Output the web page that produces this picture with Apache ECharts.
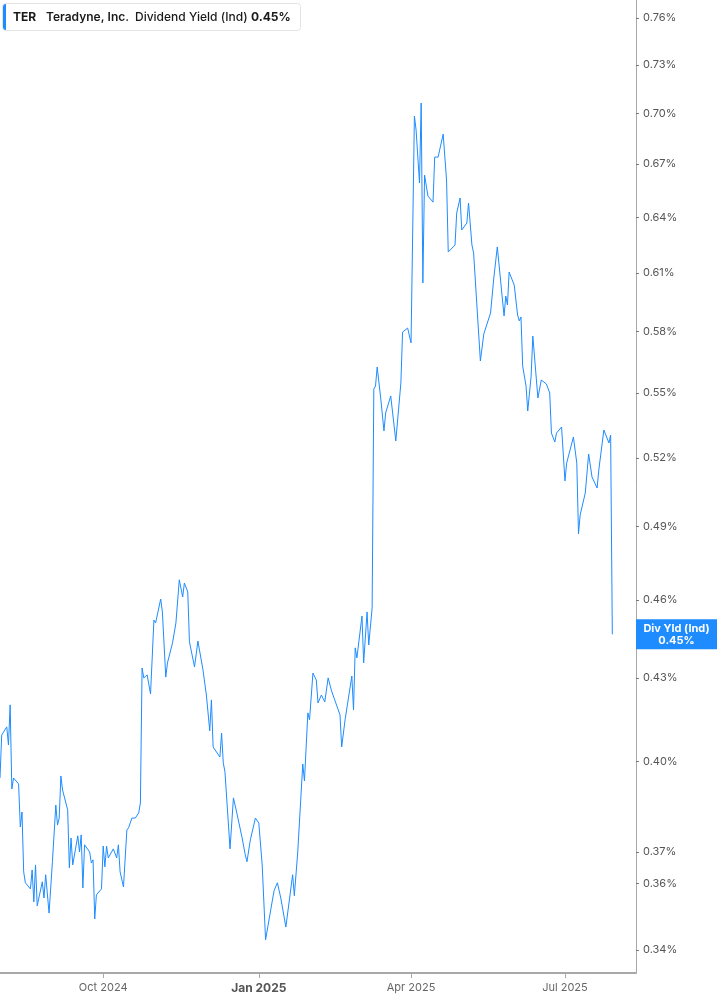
<!DOCTYPE html>
<html><head><meta charset="utf-8">
<script src="https://cdn.jsdelivr.net/npm/echarts@6/dist/echarts.min.js"></script>
<style>html,body{margin:0;padding:0;background:#fff}#c{width:717px;height:1005px}</style>
</head><body><div id="c"></div>
<script>
const dates = ['2024-08-01','2024-08-02','2024-08-05','2024-08-06','2024-08-07','2024-08-08','2024-08-09','2024-08-12','2024-08-13','2024-08-14','2024-08-15','2024-08-16','2024-08-19','2024-08-20','2024-08-21','2024-08-22','2024-08-23','2024-08-26','2024-08-27','2024-08-28','2024-08-30',
'2024-09-01','2024-09-03','2024-09-04','2024-09-05','2024-09-06','2024-09-07','2024-09-10','2024-09-11','2024-09-12','2024-09-13','2024-09-16','2024-09-17','2024-09-18','2024-09-19','2024-09-20','2024-09-23','2024-09-24','2024-09-25','2024-09-26','2024-09-27','2024-09-30',
'2024-10-01','2024-10-02','2024-10-03','2024-10-04','2024-10-07','2024-10-09','2024-10-10','2024-10-11','2024-10-13','2024-10-15','2024-10-16','2024-10-17','2024-10-18','2024-10-20','2024-10-22','2024-10-23','2024-10-24','2024-10-25','2024-10-27','2024-10-29','2024-10-31',
'2024-11-01','2024-11-04','2024-11-05','2024-11-07','2024-11-08','2024-11-11','2024-11-13','2024-11-14','2024-11-15','2024-11-17','2024-11-18','2024-11-20','2024-11-21','2024-11-24','2024-11-26','2024-11-29',
'2024-12-01','2024-12-03','2024-12-04','2024-12-05','2024-12-09','2024-12-10','2024-12-11','2024-12-12','2024-12-15','2024-12-17','2024-12-19','2024-12-22','2024-12-24','2024-12-25','2024-12-27','2024-12-30',
'2025-01-01','2025-01-03','2025-01-05','2025-01-10','2025-01-12','2025-01-14','2025-01-17','2025-01-21','2025-01-22','2025-01-24','2025-01-27','2025-01-28','2025-01-30','2025-01-31',
'2025-02-02','2025-02-04','2025-02-05','2025-02-07','2025-02-09','2025-02-11','2025-02-13','2025-02-18','2025-02-19','2025-02-21','2025-02-23','2025-02-25','2025-02-26','2025-02-27','2025-02-28',
'2025-03-03','2025-03-04','2025-03-06','2025-03-07','2025-03-09','2025-03-10','2025-03-11','2025-03-12','2025-03-14','2025-03-16','2025-03-17','2025-03-20','2025-03-23','2025-03-26','2025-03-27','2025-03-30','2025-03-31',
'2025-04-01','2025-04-03','2025-04-04','2025-04-06','2025-04-07','2025-04-08','2025-04-09','2025-04-11','2025-04-14','2025-04-15','2025-04-17','2025-04-20','2025-04-22','2025-04-23','2025-04-27','2025-04-28','2025-04-30',
'2025-05-01','2025-05-04','2025-05-05','2025-05-07','2025-05-08','2025-05-12','2025-05-14','2025-05-18','2025-05-19','2025-05-20','2025-05-22','2025-05-26','2025-05-27','2025-05-28','2025-05-29',
'2025-06-01','2025-06-03','2025-06-04','2025-06-05','2025-06-06','2025-06-08','2025-06-09','2025-06-11','2025-06-12','2025-06-15','2025-06-17','2025-06-18','2025-06-20','2025-06-22','2025-06-23','2025-06-24','2025-06-25','2025-06-26','2025-06-29',
'2025-07-01','2025-07-02','2025-07-06','2025-07-08','2025-07-09','2025-07-10','2025-07-13','2025-07-15','2025-07-17','2025-07-20','2025-07-21','2025-07-24','2025-07-27','2025-07-28','2025-07-29'];

const yields = [0.3944,0.4093,0.4122,0.4058,0.4201,0.3907,0.3944,0.3924,0.3781,0.3830,0.3637,0.3603,0.3584,0.3643,0.3544,0.3659,0.3532,0.3606,0.3556,0.3628,0.3510,
0.3669,0.3853,0.3787,0.3810,0.3951,0.3903,0.3837,0.3650,0.3745,0.3659,0.3752,0.3700,0.3755,0.3587,0.3723,0.3700,0.3665,0.3675,0.3492,0.3566,0.3584,
0.3719,0.3653,0.3719,0.3681,0.3710,0.3681,0.3723,0.3637,0.3590,0.3771,0.3778,0.3778,0.3810,0.3810,0.3827,0.3860,0.4337,0.4300,0.4311,0.4241,0.4520,
0.4509,0.4603,0.4552,0.4303,0.4356,0.4432,0.4509,0.4509,0.4680,0.4611,0.4667,0.4631,0.4436,0.4341,0.4439,0.4330,
0.4237,0.4108,0.4219,0.4051,0.4016,0.4100,0.3996,0.3965,0.3710,0.3877,0.3827,0.3749,0.3691,0.3669,0.3739,0.3810,
0.3794,0.3659,0.3430,0.3578,0.3603,0.3556,0.3468,0.3628,0.3563,0.3697,0.3992,0.3934,0.4172,0.4147,
0.4318,0.4292,0.4208,0.4237,0.4212,0.4300,0.4252,0.4165,0.4051,0.4147,0.4226,0.4307,0.4183,0.4413,0.4375,
0.4536,0.4356,0.4552,0.4424,0.4568,0.5518,0.5532,0.5624,0.5480,0.5322,0.5405,0.5485,0.5276,0.5547,0.5796,0.5816,0.5811,
0.5742,0.6984,0.6900,0.6592,0.7063,0.6047,0.6637,0.6518,0.6484,0.6741,0.6741,0.6876,0.6609,0.6211,0.6248,0.6423,0.6507,
0.6330,0.6368,0.6479,0.6248,0.6205,0.5653,0.5786,0.5892,0.5897,0.6078,0.6238,0.5877,0.5979,0.5933,0.6104,
0.6036,0.5882,0.5852,0.5872,0.5629,0.5532,0.5414,0.5580,0.5776,0.5475,0.5561,0.5561,0.5542,0.5499,0.5312,0.5317,0.5271,0.5312,0.5340,
0.5097,0.5176,0.5294,0.5176,0.4869,0.4950,0.5044,0.5217,0.5114,0.5066,0.5145,0.5326,0.5267,0.5303,0.4465];

const yTicks = [0.34,0.36,0.37,0.40,0.43,0.46,0.49,0.52,0.55,0.58,0.61,0.64,0.67,0.70,0.73,0.76];
const xTickDates = ['2024-10-01','2025-01-01','2025-04-01','2025-07-01'];
const xTickLabels = ['Oct 2024','Jan 2025','Apr 2025','Jul 2025'];
const xRange = ['2024-08-01','2025-08-12'];
const yRange = [0.3333, 0.772];
const legendParts = ['TER','Teradyne, Inc.','Dividend Yield (Ind)','0.45%'];
const endLabel = ['Div Yld (Ind)','0.45%'];

function ts(s){const p=s.split('-').map(Number);return Date.UTC(p[0],p[1]-1,p[2]);}
const xTickTs = xTickDates.map(ts);
const seriesData = dates.map((d,i)=>[ts(d), yields[i]]);
const BLUE = '#1e8cff';
const FONT = 'Inter, Roboto, sans-serif';

const chart = echarts.init(document.getElementById('c'), null, {renderer:'canvas'});
chart.setOption({
  animation:false,
  backgroundColor:'#fff',
  grid:{left:0, right:81, top:0, bottom:32, containLabel:false},
  xAxis:{
    type:'value', min:ts(xRange[0]), max:ts(xRange[1]),
    splitLine:{show:false},
    axisLine:{show:true, lineStyle:{color:'#a8a8a8', width:2}},
    axisTick:{show:true, customValues:xTickTs, length:5, lineStyle:{color:'#a8a8a8', width:1}},
    axisLabel:{
      customValues:xTickTs, margin:9, fontFamily:FONT, fontSize:11, color:'#666',
      formatter:function(v){let i=-1;xTickTs.forEach((t,k)=>{if(Math.abs(t-v)<3600e3)i=k;});const t=i>=0?xTickLabels[i]:'';return i===1?'{b|'+t+'}':t;},
      rich:{b:{fontFamily:FONT, fontSize:12, fontWeight:'bold', color:'#555'}}
    }
  },
  yAxis:{
    type:'log', position:'right', min:yRange[0], max:yRange[1], logBase:10,
    splitLine:{show:false},
    axisLine:{show:true, lineStyle:{color:'#a8a8a8', width:1}},
    axisTick:{show:true, customValues:yTicks, length:3, inside:false, lineStyle:{color:'#777'}},
    axisLabel:{customValues:yTicks, margin:7, fontFamily:FONT, fontSize:11, color:'#555',
      formatter:function(v){return Number(v).toFixed(2)+'%';}}
  },
  series:[{
    type:'line', data:seriesData, showSymbol:false, symbol:'none',
    lineStyle:{color:BLUE, width:1}, itemStyle:{color:BLUE}
  }]
});

const last = yields[yields.length-1];
const py = chart.convertToPixel({yAxisIndex:0}, last);
const axisX = 717-81;
chart.setOption({
  graphic:[
    {type:'rect', shape:{x:2.5,y:3.5,width:298,height:27,r:3}, style:{fill:'#fff', stroke:'#e3e3e3', lineWidth:1}, z:10},
    {type:'rect', shape:{x:3,y:4,width:3,height:26,r:[3,0,0,3]}, style:{fill:BLUE}, z:11},
    {type:'text', x:13, y:17, style:{text:legendParts[0], font:'bold 12px '+FONT, fill:'#1a1a1a', verticalAlign:'middle'}, z:11},
    {type:'text', x:46, y:17, style:{text:legendParts[1], font:'600 12px '+FONT, fill:'#1a1a1a', verticalAlign:'middle'}, z:11},
    {type:'text', x:135, y:17, style:{text:legendParts[2], font:'500 12px '+FONT, fill:'#1a1a1a', verticalAlign:'middle'}, z:11},
    {type:'text', x:251, y:17, style:{text:legendParts[3], font:'bold 12px '+FONT, fill:'#1a1a1a', verticalAlign:'middle'}, z:11},
    {type:'rect', shape:{x:axisX, y:py-15, width:717-axisX, height:30}, style:{fill:BLUE}, z:12},
    {type:'text', x:axisX+(717-axisX)/2, y:py-6, style:{text:endLabel[0], font:'bold 11px '+FONT, fill:'#fff', align:'center', verticalAlign:'middle'}, z:13},
    {type:'text', x:axisX+(717-axisX)/2, y:py+6, style:{text:endLabel[1], font:'bold 11px '+FONT, fill:'#fff', align:'center', verticalAlign:'middle'}, z:13}
  ]
});
</script></body></html>
